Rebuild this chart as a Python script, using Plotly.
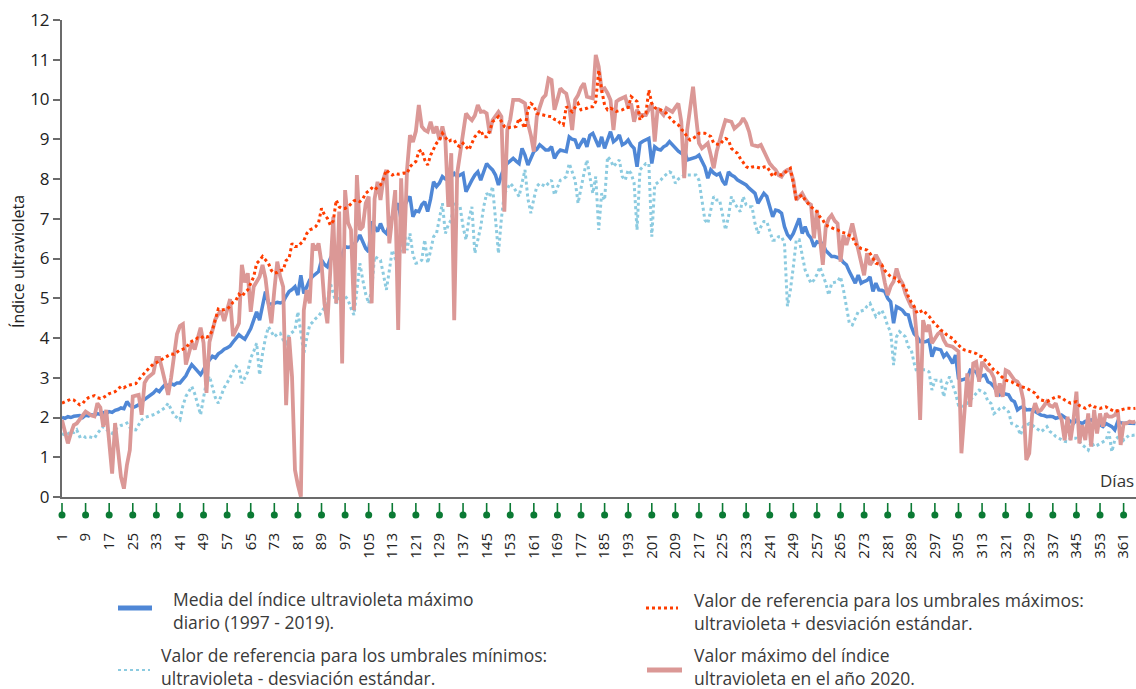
import plotly.graph_objects as go

# ---------------- data ----------------
days = list(range(1, 366))

media = [
 2.0, 1.98, 2.02, 2.0, 2.03, 2.03, 2.05, 2.0, 2.06, 2.04,
 2.07, 2.05, 2.1, 2.08, 2.12, 2.1, 2.15, 2.13, 2.18, 2.2,
 2.24, 2.22, 2.4, 2.3, 2.25, 2.28, 2.32, 2.4, 2.45, 2.5,
 2.55, 2.62, 2.7, 2.65, 2.75, 2.83, 2.8, 2.85, 2.82, 2.87,
 2.87, 2.95, 3.05, 3.2, 3.33, 3.25, 3.15, 3.08, 3.2, 3.35,
 3.45, 3.54, 3.5, 3.6, 3.65, 3.72, 3.75, 3.8, 3.9, 3.98,
 4.08, 4.02, 3.97, 4.1, 4.24, 4.45, 4.66, 4.45, 4.79, 5.17,
 4.87, 4.85, 4.87, 4.9, 4.88, 4.91, 5.05, 5.17, 5.22, 5.29,
 5.08, 5.58, 5.12, 5.3, 5.46, 5.55, 5.6, 5.67, 5.96, 5.85,
 5.79, 6.0, 6.13, 6.0, 5.88, 6.1, 6.3, 6.28, 6.3, 6.35,
 6.45, 6.59, 6.4, 6.25, 6.17, 6.93, 6.8, 6.68, 6.88, 6.7,
 6.63, 6.85, 7.05, 7.2, 7.39, 6.97, 7.3, 7.45, 7.56, 7.05,
 7.2, 7.18, 7.35, 7.43, 7.18, 7.5, 7.93, 7.81, 7.9, 8.06,
 8.0, 7.97, 8.05, 8.14, 8.06, 8.1, 8.14, 7.68, 7.85, 7.97,
 8.1, 8.18, 7.97, 8.2, 8.39, 8.3, 8.23, 8.1, 7.85, 8.1,
 8.3, 8.39, 8.45, 8.52, 8.45, 8.39, 8.77, 8.6, 8.35, 8.5,
 8.69, 8.75, 8.86, 8.8, 8.73, 8.73, 8.81, 8.52, 8.65, 8.73,
 8.7, 8.69, 9.06, 9.0, 8.98, 8.77, 8.9, 9.02, 8.81, 9.1,
 9.15, 8.95, 8.81, 9.06, 8.77, 8.98, 9.19, 8.94, 9.0, 9.11,
 8.86, 8.9, 8.98, 8.85, 8.77, 8.31, 8.9, 8.95, 8.98, 9.02,
 8.39, 8.81, 8.75, 8.73, 8.81, 8.85, 8.94, 8.85, 8.77, 8.7,
 8.65, 8.77, 8.48, 8.5, 8.52, 8.55, 8.6, 8.44, 8.3, 8.02,
 8.23, 8.15, 8.1, 8.14, 7.95, 7.85, 8.18, 8.1, 8.06, 7.98,
 7.93, 7.89, 7.85, 7.77, 7.7, 7.64, 7.39, 7.5, 7.64, 7.56,
 7.3, 7.05, 7.22, 7.2, 7.14, 6.8, 6.6, 6.51, 6.63, 6.85,
 7.01, 6.63, 6.8, 6.6, 6.51, 6.3, 6.42, 6.4, 6.38, 6.2,
 6.13, 6.05, 6.05, 6.02, 6.0, 5.9, 5.84, 5.67, 5.5, 5.38,
 5.58, 5.38, 5.42, 5.45, 5.54, 5.17, 5.38, 5.21, 5.2, 5.17,
 5.0, 4.91, 4.37, 4.79, 4.75, 4.7, 4.6, 4.58, 4.29, 4.1,
 4.03, 3.91, 3.9, 3.91, 3.95, 3.53, 3.74, 3.72, 3.7, 3.53,
 3.61, 3.5, 3.36, 3.57, 2.99, 2.94, 2.96, 2.99, 3.19, 3.17,
 3.15, 2.99, 3.05, 3.07, 2.9, 2.86, 2.78, 2.65, 2.57, 2.61,
 2.59, 2.57, 2.44, 2.4, 2.19, 2.25, 2.27, 2.19, 2.2, 2.19,
 2.15, 2.1, 2.06, 2.05, 2.02, 2.03, 2.02, 1.98, 2.0, 2.06,
 2.0, 1.94, 1.9, 1.85, 1.94, 1.88, 1.85, 1.9, 1.92, 1.94,
 1.9, 1.85, 1.8, 1.77, 1.85, 1.82, 1.77, 1.69, 1.9, 1.87,
 1.85, 1.86, 1.85, 1.84, 1.85]

umbral_max = [
 2.36, 2.4, 2.42, 2.46, 2.44, 2.38, 2.32, 2.35, 2.45, 2.5,
 2.53, 2.55, 2.5, 2.48, 2.5, 2.55, 2.6, 2.62, 2.65, 2.72,
 2.78, 2.75, 2.8, 2.82, 2.83, 2.85, 2.95, 3.05, 3.12, 3.2,
 3.28, 3.35, 3.38, 3.42, 3.46, 3.5, 3.55, 3.6, 3.59, 3.65,
 3.7, 3.72, 3.75, 3.85, 3.92, 3.95, 4.0, 3.98, 4.05, 4.02,
 4.05, 4.2, 4.45, 4.73, 4.7, 4.72, 4.73, 4.8, 4.9, 4.95,
 5.1, 5.04, 5.15, 5.21, 5.4, 5.54, 5.88, 5.95, 6.05, 5.95,
 5.88, 5.7, 5.63, 5.65, 5.7, 5.71, 5.95, 6.0, 6.38, 6.3,
 6.3, 6.38, 6.45, 6.63, 6.72, 6.75, 6.8, 6.9, 7.26, 7.1,
 7.01, 6.84, 6.95, 7.47, 7.3, 7.26, 7.26, 7.3, 7.39, 7.45,
 7.47, 7.43, 7.5, 7.64, 7.7, 7.77, 7.72, 7.8, 7.85, 8.0,
 8.23, 8.15, 8.1, 8.14, 8.12, 8.14, 8.15, 8.14, 8.31, 8.38,
 8.44, 8.69, 8.73, 8.48, 8.35, 8.6, 8.77, 8.9, 8.98, 9.15,
 9.05, 8.94, 8.98, 8.98, 8.85, 8.81, 8.9, 8.8, 8.73, 8.9,
 9.06, 9.15, 9.23, 9.06, 9.06, 9.2, 9.44, 9.5, 9.57, 9.45,
 9.32, 9.28, 9.3, 9.3, 9.32, 9.53, 9.4, 9.28, 9.74, 9.9,
 9.85, 9.65, 9.63, 9.61, 9.6, 9.58, 9.57, 9.5, 9.48, 9.4,
 9.36, 9.82, 9.75, 9.69, 9.8, 9.9, 9.74, 9.76, 9.78, 9.82,
 9.82, 9.95, 10.74, 10.24, 9.86, 9.74, 9.78, 9.75, 9.7, 9.72,
 9.74, 9.78, 9.8, 10.07, 10.0, 9.95, 9.48, 9.6, 9.65, 10.24,
 9.9, 9.8, 9.74, 9.74, 9.7, 9.65, 9.55, 9.48, 9.4, 9.36,
 9.25, 9.19, 9.05, 8.98, 9.02, 9.07, 9.15, 9.15, 9.15, 9.1,
 9.07, 8.9, 8.88, 8.86, 8.95, 9.02, 8.98, 8.77, 8.7, 8.65,
 8.52, 8.4, 8.31, 8.27, 8.3, 8.31, 8.29, 8.27, 8.3, 8.31,
 8.2, 8.06, 8.14, 8.12, 8.1, 8.14, 8.22, 8.27, 7.89, 7.51,
 7.55, 7.6, 7.47, 7.38, 7.3, 7.24, 7.18, 7.05, 6.97, 6.84,
 6.8, 6.76, 6.74, 6.72, 6.67, 6.65, 6.63, 6.58, 6.55, 6.38,
 6.3, 6.25, 6.23, 6.21, 6.13, 6.0, 5.88, 5.86, 5.84, 5.7,
 5.63, 5.54, 5.52, 5.5, 5.4, 5.33, 5.29, 5.04, 4.9, 4.79,
 4.62, 4.66, 4.7, 4.62, 4.55, 4.45, 4.35, 4.29, 4.2, 4.16,
 4.08, 4.03, 3.99, 3.9, 3.82, 3.75, 3.7, 3.68, 3.66, 3.63,
 3.61, 3.55, 3.53, 3.45, 3.38, 3.28, 3.2, 3.15, 3.07, 3.0,
 2.94, 2.92, 2.9, 2.85, 2.82, 2.78, 2.76, 2.74, 2.7, 2.67,
 2.61, 2.5, 2.44, 2.42, 2.4, 2.44, 2.48, 2.52, 2.52, 2.5,
 2.44, 2.4, 2.36, 2.38, 2.4, 2.3, 2.27, 2.23, 2.28, 2.32,
 2.27, 2.25, 2.23, 2.25, 2.27, 2.22, 2.19, 2.15, 2.17, 2.19,
 2.21, 2.23, 2.23, 2.22, 2.23]

umbral_min = [
 1.6, 1.55, 1.58, 1.65, 1.62, 1.69, 1.52, 1.55, 1.5, 1.52,
 1.5, 1.48, 1.6, 1.7, 1.77, 1.7, 1.65, 1.6, 1.7, 1.75,
 1.8, 1.82, 1.86, 1.75, 1.7, 1.69, 1.8, 1.94, 2.0, 2.02,
 2.05, 2.07, 2.1, 2.15, 2.19, 2.25, 2.36, 2.2, 2.05, 2.0,
 1.94, 2.3, 2.53, 2.65, 2.78, 2.6, 2.3, 2.07, 2.5, 2.9,
 3.04, 2.8, 2.5, 2.36, 2.55, 2.75, 2.87, 3.0, 3.15, 3.29,
 3.24, 2.86, 3.0, 3.15, 3.5, 3.66, 3.87, 3.07, 3.61, 4.0,
 4.28, 4.15, 4.03, 4.1, 4.12, 3.95, 3.87, 4.08, 4.15, 4.2,
 4.66, 4.1, 3.61, 4.0, 4.33, 4.4, 4.49, 4.55, 4.66, 4.75,
 4.87, 5.38, 5.1, 4.87, 5.0, 5.12, 5.05, 4.96, 4.75, 4.58,
 5.2, 5.88, 5.46, 5.1, 4.87, 5.21, 6.05, 6.0, 5.96, 5.6,
 5.21, 5.7, 6.21, 6.0, 5.88, 6.3, 6.72, 6.21, 6.63, 6.1,
 5.88, 5.9, 5.96, 6.47, 5.88, 6.2, 6.55, 6.63, 7.0, 7.39,
 6.63, 6.85, 6.97, 7.43, 7.35, 7.3, 6.8, 6.47, 7.0, 7.3,
 6.13, 6.5, 6.8, 7.3, 7.64, 7.55, 7.81, 7.0, 6.13, 7.0,
 7.64, 7.75, 7.89, 7.81, 7.7, 7.56, 7.9, 8.23, 7.5, 7.14,
 7.5, 7.81, 7.89, 7.85, 7.81, 7.9, 7.97, 7.6, 7.8, 7.97,
 8.0, 8.06, 8.39, 8.2, 7.97, 7.39, 7.8, 8.14, 8.48, 8.1,
 7.64, 8.06, 6.72, 7.64, 7.47, 8.56, 8.48, 8.31, 8.39, 8.48,
 8.06, 7.97, 8.23, 8.14, 7.9, 6.72, 8.23, 8.3, 8.39, 8.39,
 6.55, 7.85, 7.9, 7.97, 8.06, 8.12, 8.18, 8.14, 7.89, 8.0,
 8.06, 8.1, 8.1, 8.1, 8.1, 8.1, 7.97, 7.47, 6.97, 6.88,
 7.2, 7.56, 7.47, 7.47, 7.1, 6.72, 7.05, 7.56, 7.39, 7.3,
 7.18, 7.56, 7.35, 7.3, 7.3, 6.88, 6.63, 6.8, 6.93, 6.93,
 6.7, 6.46, 6.46, 6.55, 6.55, 6.38, 4.8, 5.21, 5.79, 6.47,
 6.47, 6.13, 5.71, 5.54, 5.38, 5.46, 5.6, 5.79, 5.6, 5.38,
 5.08, 5.38, 5.4, 5.42, 5.54, 5.21, 4.79, 4.37, 4.33, 4.5,
 4.66, 4.68, 4.7, 4.8, 4.87, 4.7, 4.54, 4.62, 4.7, 4.54,
 4.3, 4.16, 3.32, 4.03, 4.16, 4.1, 4.03, 3.78, 3.7, 3.36,
 3.11, 3.2, 3.2, 3.2, 3.15, 2.69, 2.94, 2.94, 2.94, 2.52,
 2.86, 3.03, 2.8, 2.61, 2.31, 2.3, 2.27, 2.35, 2.44, 2.52,
 2.6, 2.69, 2.65, 2.61, 2.4, 2.36, 2.1, 2.15, 2.23, 2.27,
 2.2, 2.14, 1.85, 1.8, 1.77, 1.56, 1.77, 1.8, 1.85, 1.81,
 1.75, 1.69, 1.64, 1.7, 1.77, 1.65, 1.6, 1.52, 1.48, 1.43,
 1.4, 1.39, 1.48, 1.48, 1.48, 1.4, 1.31, 1.25, 1.18, 1.39,
 1.27, 1.3, 1.35, 1.4, 1.43, 1.64, 1.14, 1.43, 1.5, 1.6,
 1.43, 1.5, 1.56, 1.55, 1.56]

max_2020 = [
 1.94, 1.6, 1.35, 1.6, 1.81, 1.85, 1.94, 2.05, 2.15, 2.1,
 2.05, 2.03, 2.36, 2.25, 1.77, 2.19, 1.5, 0.59, 1.86, 1.2,
 0.5, 0.21, 0.8, 1.18, 2.53, 2.55, 2.57, 2.07, 2.87, 3.0,
 3.05, 3.12, 3.5, 3.5, 3.2, 2.9, 2.57, 3.0, 3.54, 4.1,
 4.3, 4.35, 3.33, 3.6, 3.88, 3.71, 4.0, 4.26, 3.88, 2.62,
 3.9, 4.22, 4.47, 4.6, 4.68, 4.43, 4.7, 4.98, 4.05, 4.2,
 4.37, 5.84, 5.4, 5.63, 4.66, 5.29, 5.42, 5.54, 5.84, 5.5,
 4.87, 4.37, 5.2, 5.92, 5.54, 5.29, 2.31, 4.03, 3.03, 0.68,
 0.3, 0.01, 4.7, 5.21, 4.87, 6.38, 6.21, 6.38, 5.88, 4.87,
 4.37, 5.71, 7.05, 4.87, 7.18, 3.36, 7.72, 6.9, 6.72, 4.7,
 8.1, 6.72, 6.8, 7.39, 7.56, 4.87, 7.5, 7.93, 7.47, 8.0,
 8.23, 6.38, 7.0, 7.72, 4.2, 8.02, 6.13, 8.23, 9.1, 8.93,
 9.2, 9.86, 9.32, 9.23, 9.19, 9.44, 9.15, 9.32, 8.98, 9.32,
 8.98, 7.3, 8.65, 4.45, 8.14, 8.6, 9.15, 9.65, 9.55, 9.48,
 9.6, 9.86, 9.69, 9.7, 9.65, 9.15, 9.48, 9.6, 9.69, 9.57,
 7.18, 9.23, 9.5, 9.99, 10.0, 9.99, 9.95, 9.9, 9.4, 9.1,
 8.69, 9.57, 9.8, 10.03, 10.11, 10.53, 10.49, 9.74, 10.0, 10.28,
 10.2, 10.15, 9.82, 9.23, 9.99, 10.11, 10.3, 10.41, 10.07, 10.05,
 10.03, 11.12, 10.83, 10.24, 10.28, 10.16, 9.99, 9.23, 9.95, 10.0,
 10.03, 10.07, 9.78, 9.9, 9.44, 9.74, 9.61, 9.6, 9.61, 9.75,
 9.9, 8.94, 9.78, 9.7, 9.61, 9.78, 9.72, 9.69, 9.8, 9.9,
 9.44, 8.02, 9.23, 9.8, 10.32, 9.57, 8.9, 8.77, 8.85, 8.9,
 8.6, 8.27, 8.69, 9.0, 9.23, 9.48, 9.46, 9.44, 9.27, 9.35,
 9.4, 9.53, 9.4, 9.19, 8.86, 8.84, 8.82, 8.86, 8.7, 8.56,
 8.39, 8.3, 8.23, 8.1, 8.06, 8.18, 8.23, 8.2, 7.97, 7.47,
 7.55, 7.64, 7.5, 7.4, 7.35, 6.51, 7.22, 6.42, 5.84, 6.8,
 7.0, 7.09, 6.95, 6.88, 5.92, 6.59, 6.34, 6.6, 6.88, 6.55,
 6.21, 5.9, 5.58, 6.13, 5.84, 5.95, 6.09, 5.95, 5.79, 5.4,
 5.08, 5.3, 5.42, 5.75, 5.5, 5.38, 5.12, 4.95, 4.79, 4.75,
 3.91, 1.94, 4.45, 4.16, 4.33, 3.87, 4.0, 4.1, 4.16, 3.95,
 3.82, 3.8, 3.78, 3.72, 3.66, 1.1, 2.19, 3.11, 2.27, 3.36,
 3.4, 2.9, 3.4, 3.3, 3.2, 3.15, 3.0, 2.52, 2.86, 2.52,
 3.19, 3.15, 3.05, 2.94, 2.9, 2.78, 2.44, 0.93, 1.1, 2.1,
 2.36, 2.15, 2.19, 2.3, 2.4, 2.3, 2.27, 2.36, 2.1, 1.94,
 1.43, 2.02, 1.43, 1.94, 2.65, 1.35, 1.81, 1.43, 2.1, 1.27,
 2.19, 1.6, 2.1, 1.77, 2.1, 2.02, 2.02, 2.06, 2.19, 1.31,
 1.85, 1.85, 1.9, 1.88, 1.9]

tick_days = [1, 9, 17, 25, 33, 41, 49, 57, 65, 73, 81, 89, 97, 105, 113, 121,
             129, 137, 145, 153, 161, 169, 177, 185, 193, 201, 209, 217, 225,
             233, 241, 249, 257, 265, 273, 281, 289, 297, 305, 313, 321, 329,
             337, 345, 353, 361]
tick_labels = [str(d) for d in tick_days]

legend_labels = {
    "media": "Media del índice ultravioleta máximo<br>diario (1997 - 2019).",
    "max": "Valor de referencia para los umbrales máximos:<br>ultravioleta + desviación estándar.",
    "min": "Valor de referencia para los umbrales mínimos:<br>ultravioleta - desviación estándar.",
    "y2020": "Valor máximo del índice<br>ultravioleta en el año 2020.",
}

# ---------------- styles ----------------
C_MEDIA = "#4f87d6"
C_MAX = "#ff3d00"
C_MIN = "#8ccbe0"
C_2020 = "#db9896"
C_AXIS = "#6b6b6b"
C_GREEN = "#0b7a34"
FONT = "Open Sans"

W, H = 1136, 689
ML, MR, MT = 62, 0, 20
AXIS_PX = 497          # pixel row of the x axis line
PIN_BOTTOM_PX = 520    # bottom of the small strip that holds the tick pins
MB = H - PIN_BOTTOM_PX
Y_RANGE = [0, 12]
X_RANGE = [1, 365.2]
plot_h = H - MT - MB
plot_w = W - ML - MR
strip_h = PIN_BOTTOM_PX - AXIS_PX
PIN_RANGE = [0, strip_h]


def px_to_paper(px, py):
    return (px - ML) / plot_w, (PIN_BOTTOM_PX - py) / plot_h


fig = go.Figure()

fig.add_trace(go.Scatter(x=days, y=umbral_min, mode="lines",
                         name=legend_labels["min"].replace("<br>", " "),
                         line=dict(color=C_MIN, width=3, dash="dot"), showlegend=False))
fig.add_trace(go.Scatter(x=days, y=media, mode="lines",
                         name=legend_labels["media"].replace("<br>", " "),
                         line=dict(color=C_MEDIA, width=3.5), showlegend=False))
fig.add_trace(go.Scatter(x=days, y=max_2020, mode="lines",
                         name=legend_labels["y2020"].replace("<br>", " "),
                         line=dict(color=C_2020, width=3.8), showlegend=False))
fig.add_trace(go.Scatter(x=days, y=umbral_max, mode="lines",
                         name=legend_labels["max"].replace("<br>", " "),
                         line=dict(color=C_MAX, width=3, dash="dot"), showlegend=False))

# green pin ticks in a thin strip (yaxis2) just below the x axis
fig.add_trace(go.Scatter(x=tick_days, y=[strip_h - 13] * len(tick_days), yaxis="y2",
                         mode="markers", cliponaxis=False, showlegend=False, hoverinfo="skip",
                         marker=dict(symbol="line-ns", size=10, color=C_GREEN,
                                     line=dict(width=1.6, color=C_GREEN))))
fig.add_trace(go.Scatter(x=tick_days, y=[strip_h - 18] * len(tick_days), yaxis="y2",
                         mode="markers", cliponaxis=False, showlegend=False, hoverinfo="skip",
                         marker=dict(symbol="circle", size=7, color=C_GREEN)))

shapes = []
annotations = []

# ---------------- manual legend ----------------
legend_items = [
    ("media", 118, 152, 608, 172, 610, C_MEDIA, 5, "solid"),
    ("max", 646, 678, 608, 693, 611, C_MAX, 3, "dot"),
    ("min", 118, 150, 670, 160, 666, C_MIN, 2, "dot"),
    ("y2020", 647, 682, 670, 693, 666, C_2020, 5, "solid"),
]
for key, x0, x1, yy, xt, ty_px, col, lw, dash in legend_items:
    p0x, p0y = px_to_paper(x0, yy)
    p1x, _ = px_to_paper(x1, yy)
    shapes.append(dict(type="line", xref="paper", yref="paper", x0=p0x, x1=p1x,
                       y0=p0y, y1=p0y, line=dict(color=col, width=lw, dash=dash)))
    tx, ty = px_to_paper(xt, ty_px)
    annotations.append(dict(xref="paper", yref="paper", x=tx, y=ty, text=legend_labels[key],
                            showarrow=False, xanchor="left", yanchor="middle", align="left",
                            borderpad=0,
                            font=dict(family=FONT, size=17.5, color="#3a3a3a")))

dx, dy = px_to_paper(1136, 480)
annotations.append(dict(xref="paper", yref="paper", x=dx, y=dy, text="Días", showarrow=False,
                        xanchor="right", yanchor="middle",
                        font=dict(family=FONT, size=17, color="#333333")))
tx, ty = px_to_paper(18, 262)
annotations.append(dict(xref="paper", yref="paper", x=tx, y=ty, text="Índice ultravioleta",
                        showarrow=False, textangle=-90, xanchor="center", yanchor="middle",
                        font=dict(family=FONT, size=16, color="#222222")))

fig.update_layout(
    template="none",
    width=W, height=H,
    margin=dict(l=ML, r=MR, t=MT, b=MB, autoexpand=False),
    paper_bgcolor="white", plot_bgcolor="white",
    font=dict(family=FONT, color="#222222"),
    showlegend=False,
    shapes=shapes,
    annotations=annotations,
    xaxis=dict(range=X_RANGE, anchor="y", showgrid=False, zeroline=False, showline=True,
               linecolor=C_AXIS, linewidth=2, ticks="outside", ticklen=28,
               tickcolor="rgba(0,0,0,0)", tickvals=tick_days, ticktext=tick_labels,
               tickangle=-90, tickfont=dict(family=FONT, size=15, color="#222222"),
               automargin=False),
    yaxis=dict(range=Y_RANGE, domain=[strip_h / plot_h, 1], dtick=1, showgrid=False,
               zeroline=False, showline=True,
               linecolor=C_AXIS, linewidth=2, ticks="outside", ticklen=7, tickwidth=1.5,
               tickcolor=C_AXIS, tickfont=dict(family=FONT, size=17, color="#222222"),
               automargin=False),
    yaxis2=dict(range=PIN_RANGE, domain=[0, strip_h / plot_h], visible=False,
                fixedrange=True),
)

fig.write_html("out.html")
